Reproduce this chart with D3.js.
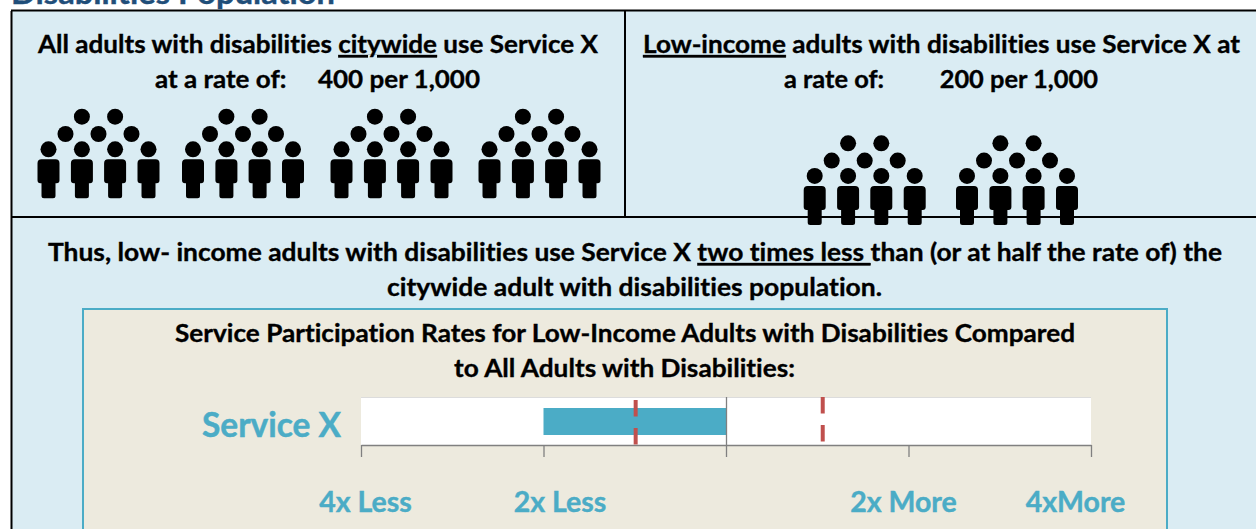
<!DOCTYPE html>
<html><head><meta charset="utf-8">
<script src="https://cdn.jsdelivr.net/npm/d3@7/dist/d3.min.js"></script>
<style>
html,body{margin:0;padding:0;background:#fff;overflow:hidden}
svg{display:block}
text{font-family:Lato,"Open Sans",sans-serif;font-weight:700;white-space:pre;font-variant-ligatures:none;font-feature-settings:"liga" 0}
</style></head><body><svg id="c" width="1256" height="529"></svg>
<script>
const pageTitle = "Disabilities Population";
const panelLeft = [["All adults with disabilities ",["citywide"]," use Service X"],["at a rate of:     400 per 1,000"]];
const panelRight = [[["Low-income"]," adults with disabilities use Service X at"],["a rate of:         200 per 1,000"]];
const summary = [["Thus, low- income adults with disabilities use Service X ",["two times less "],"than (or at half the rate of) the"],["citywide adult with disabilities population."]];
const chartTitle = [["Service Participation Rates for Low-Income Adults with Disabilities Compared"],["to All Adults with Disabilities:"]];
const rowLabel = "Service X";
const citywideRate = 400, lowIncomeRate = 200, ratePerGroup = 100;
const tickValues = [-2,-1,0,1,2];               // log2 rate ratio
const tickLabels = ["4x Less","2x Less","","2x More","4xMore"];
const tickLabelShift = [4.5,16.5,0,-5,-15.5];
const barStart = -1, barEnd = 0;                // 2x less
const lowerBound = -0.495, upperBound = 0.53;   // red dashed markers

const svg = d3.select("#c");
const BLUE="#DAECF3", BEIGE="#EDEADE", TEAL="#4BACC6", RED="#C0504D", GREY="#808080";

// backgrounds
svg.append("rect").attr("x",12).attr("y",11).attr("width",1244).attr("height",518).attr("fill",BLUE);
svg.append("rect").attr("x",83).attr("y",309).attr("width",1084).attr("height",225).attr("fill",BEIGE).attr("stroke",TEAL).attr("stroke-width",2);

// frame
const frame=[[11.5,529,11.5,11],[11,10.5,1256,10.5],[625,11,625,217],[11,217,1256,217]];
svg.selectAll("line.frame").data(frame).join("line").attr("class","frame")
 .attr("x1",d=>d[0]).attr("y1",d=>d[1]).attr("x2",d=>d[2]).attr("y2",d=>d[3])
 .attr("stroke","#000").attr("stroke-width",2);

// title
svg.append("text").attr("x",11).attr("y",4).attr("font-size",30).attr("fill","#1F4E79").attr("stroke","#1F4E79").attr("stroke-width",.4).attr("textLength",324).attr("lengthAdjust","spacingAndGlyphs").text(pageTitle);

function para(parts,cx,y,size,width){
  const t=svg.append("text").attr("x",cx).attr("y",y).attr("text-anchor","middle").attr("font-size",size).attr("fill","#000")
    .attr("stroke","#000").attr("stroke-width",.35)
    .attr("textLength",width).attr("lengthAdjust","spacingAndGlyphs");
  parts.forEach(p=>{
    const ts=t.append("tspan");
    if(Array.isArray(p)) ts.attr("text-decoration","underline").text(p[0]); else ts.text(p);
  });
}
para(panelLeft[0],318,53,25,560);
para(panelLeft[1],317.5,88,25,325);
para(panelRight[0],941.5,53,25,597);
para(panelRight[1],941,88,25,314);
para(summary[0],635,261,25,1174);
para(summary[1],634.5,296,25,495);
para(chartTitle[0],625,342,25,900);
para(chartTitle[1],624.5,377,25,341);

// people icons
const bodyPath="M-7,0 H7 Q11,0 11,4 V21 Q11,24 8,24 H7 V36.5 Q7,39 4.5,39 H-4.5 Q-7,39 -7,36.5 V24 H-8 Q-11,24 -11,21 V4 Q-11,0 -7,0 Z";
const peopleRows=[{dy:0,xs:[-16.6,16.6]},{dy:17.3,xs:[-33,0,33]},{dy:32.6,xs:[-50,-16.6,16.6,50]}];
function group(cx,top){
  const g=svg.append("g").attr("transform",`translate(${cx},${top})`);
  peopleRows.forEach(r=>r.xs.forEach(x=>g.append("circle").attr("cx",x).attr("cy",r.dy).attr("r",8).attr("fill","#000")));
  peopleRows[2].xs.forEach(x=>g.append("path").attr("d",bodyPath).attr("transform",`translate(${x},42.6)`).attr("fill","#000"));
}
d3.range(citywideRate/ratePerGroup).forEach(i=>group(98.5+[0,144.5,293,441][i],116.7));
d3.range(lowIncomeRate/ratePerGroup).forEach(i=>group(864.7+152.3*i,143.3));

// chart
const x=d3.scaleLinear().domain([-2,2]).range([361,1091]);
const yTop=397,yBase=445,barTop=408,barBottom=435;
svg.append("rect").attr("x",x(-2)).attr("y",yTop).attr("width",x(2)-x(-2)).attr("height",yBase-yTop).attr("fill","#fff");
svg.append("line").attr("x1",x(-2)).attr("x2",x(2)).attr("y1",397.5).attr("y2",397.5).attr("stroke","#dcdcdc");
svg.append("rect").attr("x",x(barStart)).attr("y",barTop).attr("width",x(barEnd)-x(barStart)).attr("height",barBottom-barTop).attr("fill",TEAL);

const axis=d3.axisBottom(x).tickValues(tickValues).tickFormat("").tickSize(12).tickSizeOuter(0);
const ag=svg.append("g").attr("transform",`translate(0,${yBase})`).call(axis);
ag.selectAll("path,line").attr("stroke",GREY).attr("stroke-width",1.3);
svg.append("line").attr("x1",x(0)+.5).attr("x2",x(0)+.5).attr("y1",yTop).attr("y2",yBase).attr("stroke",GREY).attr("stroke-width",1.3);

// red markers
[[lowerBound,400,444.5],[upperBound,397,441.5]].forEach(([v,a,b])=>{
  const m=svg.append("g");
  const segs=[[a,a+16.5],[b-16.5,b]];
  segs.forEach(s=>m.append("line").attr("x1",x(v)).attr("x2",x(v)).attr("y1",s[0]).attr("y2",s[1]).attr("stroke",RED).attr("stroke-width",4));
});

svg.append("text").attr("x",341).attr("y",437).attr("text-anchor","end").attr("font-size",34).attr("fill",TEAL).attr("stroke",TEAL).attr("stroke-width",.5)
  .attr("textLength",139).attr("lengthAdjust","spacingAndGlyphs").text(rowLabel);
svg.selectAll("text.tick").data(tickValues.map((v,i)=>({v,l:tickLabels[i],s:tickLabelShift[i]})).filter(d=>d.l)).join("text")
  .attr("class","tick").attr("x",d=>x(d.v)+d.s).attr("y",512).attr("text-anchor","middle")
  .attr("font-size",28.5).attr("fill",TEAL).attr("stroke",TEAL).attr("stroke-width",.4).text(d=>d.l);
</script></body></html>
